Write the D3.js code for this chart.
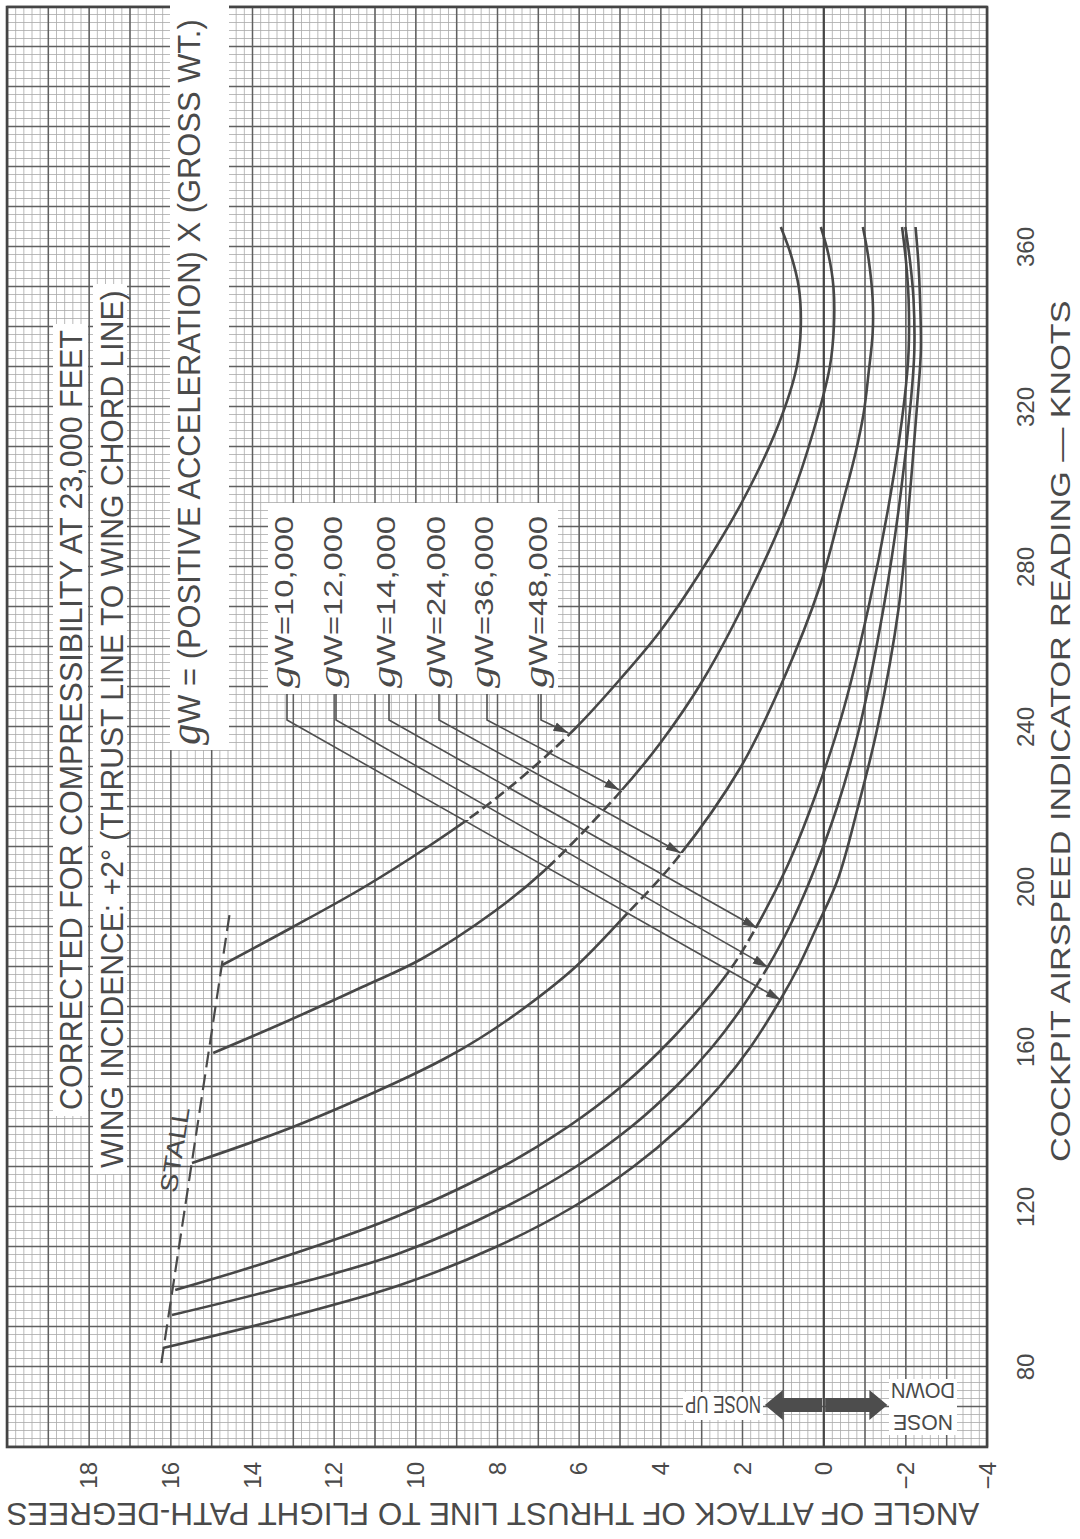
<!DOCTYPE html>
<html>
<head>
<meta charset="utf-8">
<style>
  html, body { margin: 0; padding: 0; background: #fff; }
  svg { display: block; }
  text { font-family: 'Liberation Sans', Arial, sans-serif; fill: #4a4a4a; }
  .script { font-family: 'Liberation Serif', serif; font-style: italic; }
</style>
</head>
<body>
<script src="https://cdn.jsdelivr.net/npm/d3@7"></script>
<script>
// Data: [airspeed knots, angle degrees]
const seriesNames = ['10,000', '12,000', '14,000', '24,000', '36,000', '48,000']
const gw10000 = [[84.75, 16.18], [92, 13.3], [100.5, 10.37], [110, 8.03], [120, 6.14], [130, 4.67], [140, 3.5], [150, 2.56], [160, 1.79], [172, 1.05], [180, 0.62], [190, 0.17], [202, -0.35], [220, -0.84], [240, -1.32], [270, -1.84], [297, -2.1], [322, -2.3], [334, -2.38], [347, -2.36], [356, -2.32], [365, -2.25]]
const gw12000 = [[93, 15.96], [100, 13.2], [108.5, 10.37], [120, 7.8], [130, 6.08], [140, 4.72], [150, 3.63], [160, 2.73], [170, 1.99], [180, 1.37], [190, 0.84], [202, 0.32], [220, -0.33], [240, -0.88], [270, -1.47], [297, -1.87], [322, -2.14], [334, -2.22], [347, -2.2], [356, -2.12], [365, -2.0]]
const gw14000 = [[99.25, 15.88], [105, 14.0], [111.75, 12.0], [118, 10.37], [130, 7.88], [140, 6.27], [150, 4.97], [162, 3.72], [178.5, 2.35], [190, 1.65], [205, 0.9], [218.5, 0.36], [242, -0.42], [270, -1.1], [297, -1.62], [322, -1.98], [334, -2.08], [347, -2.08], [356, -2.02], [365, -1.92]]
const gw24000 = [[131, 15.47], [140, 13.0], [151, 10.5], [157, 9.3], [162, 8.45], [170, 7.3], [180, 6.08], [193.5, 4.8], [207, 3.6], [230, 2.03], [252, 0.98], [275, 0.1], [297, -0.49], [308.5, -0.78], [318.5, -0.98], [328.5, -1.1], [338.5, -1.2], [347, -1.2], [357, -1.1], [365, -0.96]]
const gw36000 = [[158.5, 14.95], [166, 13.24], [175, 11.3], [182, 9.85], [194, 8.05], [204, 6.85], [223, 5.05], [236, 4.0], [252, 2.94], [275, 1.75], [297, 0.8], [314, 0.25], [330, -0.15], [340, -0.25], [350, -0.24], [358, -0.12], [365, 0.07]]
const gw48000 = [[180.5, 14.73], [190, 13.0], [200, 11.25], [210, 9.7], [220, 8.3], [230, 7.1], [240, 6.05], [252, 4.98], [264, 4.0], [280, 2.94], [297, 1.96], [315, 1.13], [330, 0.66], [340, 0.56], [350, 0.61], [358, 0.8], [365, 1.05]]
const curves = [gw10000, gw12000, gw14000, gw24000, gw36000, gw48000]

// Stall boundary (dashed), ends
const stallKnots = [81, 194.5]
const stallAngles = [16.22, 14.53]

// Where each label's arrow lands, and where the broken stretch of each curve begins
const arrowKnots = [171.75, 180, 189.75, 208.5, 224.25, 238.5]
const arrowAngles = [1.05, 1.37, 1.63, 3.5, 5.0, 6.25]
const brokenFromKnots = [null, 175, 179, 193.5, 205, 216.75]

const knotTicks = [80, 120, 160, 200, 240, 280, 320, 360]
const angleTicks = [18, 16, 14, 12, 10, 8, 6, 4, 2, 0, -2, -4]

// Chart is drawn landscape, then turned a quarter to the left
const W = 1440, H = 980
const x = d3.scaleLinear().domain([60, 420]).range([0, W])
const y = d3.scaleLinear().domain([20, -4]).range([0, H])

const svg = d3.select('body').append('svg').attr('width', 1080).attr('height', 1539)
svg.append('rect').attr('width', 1080).attr('height', 1539).attr('fill', '#fff')
const defs = svg.append('defs')
const chart = svg.append('g').attr('transform', `translate(7,${7 + W}) rotate(-90)`)

// Grid paper
const grid = (knots, angles, stroke, width) => {
    chart.append('g')
        .attr('transform', `translate(0,${H})`)
        .call(d3.axisBottom(x).tickValues(knots).tickSize(-H).tickFormat(''))
        .call(g => g.select('.domain').remove())
        .selectAll('line').attr('stroke', stroke).attr('stroke-width', width)
    chart.append('g')
        .call(d3.axisLeft(y).tickValues(angles).tickSize(-W).tickFormat(''))
        .call(g => g.select('.domain').remove())
        .selectAll('line').attr('stroke', stroke).attr('stroke-width', width)
}
grid(d3.range(60, 421, 2), d3.range(-20, 101).map(i => i / 5), '#aaaaaa', 0.8)
grid(d3.range(60, 421, 10), d3.range(-4, 21), '#606060', 1.5)
chart.append('line')
    .attr('x1', 0).attr('x2', W).attr('y1', y(0)).attr('y2', y(0))
    .attr('stroke', '#454545').attr('stroke-width', 2)
chart.append('rect')
    .attr('width', W).attr('height', H)
    .attr('fill', 'none').attr('stroke', '#444').attr('stroke-width', 2.6)

// White label panels
const panels = chart.append('g')
const layer = chart.append('g')

// squeeze a text to a given length (lettering on the sheet is narrow)
const fit = (sel, place, len) => {
    const n = sel.node().getComputedTextLength()
    sel.attr('transform', `${place} scale(${len / n},1)`)
    return sel
}

// Curves
const line = d3.line().x(d => x(d[0])).y(d => y(d[1])).curve(d3.curveCatmullRom.alpha(0.5))
curves.forEach((pts, i) => {
    const k1 = brokenFromKnots[i], k2 = arrowKnots[i]
    if (k1 === null) {
        layer.append('path').attr('d', line(pts))
            .attr('fill', 'none').attr('stroke', '#474747').attr('stroke-width', 2.6)
        return
    }
    const solid = defs.append('clipPath').attr('id', `solid-${i}`)
    solid.append('rect').attr('x', -20).attr('y', -50).attr('width', x(k1) + 20).attr('height', H + 100)
    solid.append('rect').attr('x', x(k2)).attr('y', -50).attr('width', W - x(k2) + 20).attr('height', H + 100)
    defs.append('clipPath').attr('id', `broken-${i}`)
        .append('rect').attr('x', x(k1)).attr('y', -50).attr('width', x(k2) - x(k1)).attr('height', H + 100)
    layer.append('path').attr('d', line(pts)).attr('clip-path', `url(#solid-${i})`)
        .attr('fill', 'none').attr('stroke', '#474747').attr('stroke-width', 2.6)
    layer.append('path').attr('d', line(pts)).attr('clip-path', `url(#broken-${i})`)
        .attr('fill', 'none').attr('stroke', '#474747').attr('stroke-width', 2.6)
        .attr('stroke-dasharray', '11,5')
})

// Stall line
layer.append('line')
    .attr('x1', x(stallKnots[0])).attr('y1', y(stallAngles[0]))
    .attr('x2', x(stallKnots[1])).attr('y2', y(stallAngles[1]))
    .attr('stroke', '#4a4a4a').attr('stroke-width', 2.2).attr('stroke-dasharray', '16,7')
fit(layer.append('text').attr('text-anchor', 'middle').attr('font-size', 24).text('STALL'),
    `translate(${x(134)},176) rotate(9)`, 86)

// Series labels with leaders
defs.append('marker').attr('id', 'arrow')
    .attr('viewBox', '-15 -5 16 10').attr('refX', 0).attr('refY', 0)
    .attr('markerWidth', 16).attr('markerHeight', 10)
    .attr('markerUnits', 'userSpaceOnUse').attr('orient', 'auto')
    .append('path').attr('d', 'M-15,-4.5L0,0L-15,4.5Z').attr('fill', '#4a4a4a')

const labelBase = [286, 335, 388, 438, 486, 540]
seriesNames.forEach((name, i) => {
    const t = layer.append('text').attr('font-size', 25)
    t.append('tspan').attr('class', 'script').attr('font-size', 34).text('g')
    t.append('tspan').text(`W=${name}`)
    fit(t, `translate(759,${labelBase[i]})`, 172)
    const lead = labelBase[i] - 6
    layer.append('path')
        .attr('d', `M753,${lead}L727,${lead}L${x(arrowKnots[i])},${y(arrowAngles[i])}`)
        .attr('fill', 'none').attr('stroke', '#505050').attr('stroke-width', 1.6)
        .attr('marker-end', 'url(#arrow)')
})
panels.append('rect')
    .attr('x', 753).attr('y', 261).attr('width', 191).attr('height', 290)
    .attr('fill', '#fff')

// Notes
const formula = layer.append('text').attr('font-size', 32)
formula.append('tspan').attr('class', 'script').attr('font-size', 44).text('g')
formula.append('tspan').text('W = (POSITIVE ACCELERATION) X (GROSS WT.)')
fit(formula, 'translate(702,193)', 726)
panels.append('rect').attr('x', 697).attr('y', 163).attr('width', 780).attr('height', 59).attr('fill', '#fff')

fit(layer.append('text').attr('font-size', 31).text('CORRECTED FOR COMPRESSIBILITY AT 23,000 FEET'),
    'translate(337,75)', 780)
panels.append('rect').attr('x', 331).attr('y', 46).attr('width', 792).attr('height', 35).attr('fill', '#fff')
fit(layer.append('text').attr('font-size', 31).text('WING INCIDENCE: +2° (THRUST LINE TO WING CHORD LINE)'),
    'translate(279,116)', 878)
panels.append('rect').attr('x', 273).attr('y', 86).attr('width', 890).attr('height', 34).attr('fill', '#fff')

// Nose up / nose down arrows
const cx = x(70.5), y0 = y(0), upTip = y(1.44), downTip = y(-1.56)
const arrowShape = (tip, dir) => [
    [cx - 7, y0 + dir * 1.5], [cx - 7, tip - dir * 18], [cx - 15, tip - dir * 18], [cx, tip],
    [cx + 15, tip - dir * 18], [cx + 7, tip - dir * 18], [cx + 7, y0 + dir * 1.5]
]
layer.append('path').attr('d', d3.line()(arrowShape(upTip, -1)) + 'Z').attr('fill', '#4d4d4d')
layer.append('path').attr('d', d3.line()(arrowShape(downTip, 1)) + 'Z').attr('fill', '#4d4d4d')

const sideText = (txt, lx, ly, size, len) =>
    fit(layer.append('text').attr('text-anchor', 'middle').attr('font-size', size).text(txt),
        `translate(${lx},${ly}) rotate(-90)`, len)
panels.append('rect').attr('x', 27).attr('y', 676).attr('width', 28).attr('height', 80).attr('fill', '#fff')
sideText('NOSE UP', 51, 716, 24, 76)
panels.append('rect').attr('x', 12).attr('y', 882).attr('width', 56).attr('height', 68).attr('fill', '#fff')
sideText('NOSE', 32, 916, 22, 60)
sideText('DOWN', 64, 916, 22, 64)

// Tick labels
layer.selectAll('text.knot').data(knotTicks).join('text')
    .attr('class', 'knot')
    .attr('x', d => x(d)).attr('y', H + 47)
    .attr('text-anchor', 'middle').attr('font-size', 24)
    .text(d => d)
layer.selectAll('text.angle').data(angleTicks).join('text')
    .attr('class', 'angle')
    .attr('x', -15).attr('y', d => y(d) + 8.5)
    .attr('text-anchor', 'end').attr('font-size', 24)
    .text(d => d3.format('d')(d))

// Axis titles
fit(layer.append('text').attr('font-size', 28).text('COCKPIT AIRSPEED INDICATOR READING — KNOTS'),
    `translate(285,${H + 83})`, 862)
fit(layer.append('text').attr('text-anchor', 'middle').attr('font-size', 31)
        .text('ANGLE OF ATTACK OF THRUST LINE TO FLIGHT PATH-DEGREES'),
    `translate(-56,${y(8.1)}) rotate(-90)`, 973)
</script>
</body>
</html>
